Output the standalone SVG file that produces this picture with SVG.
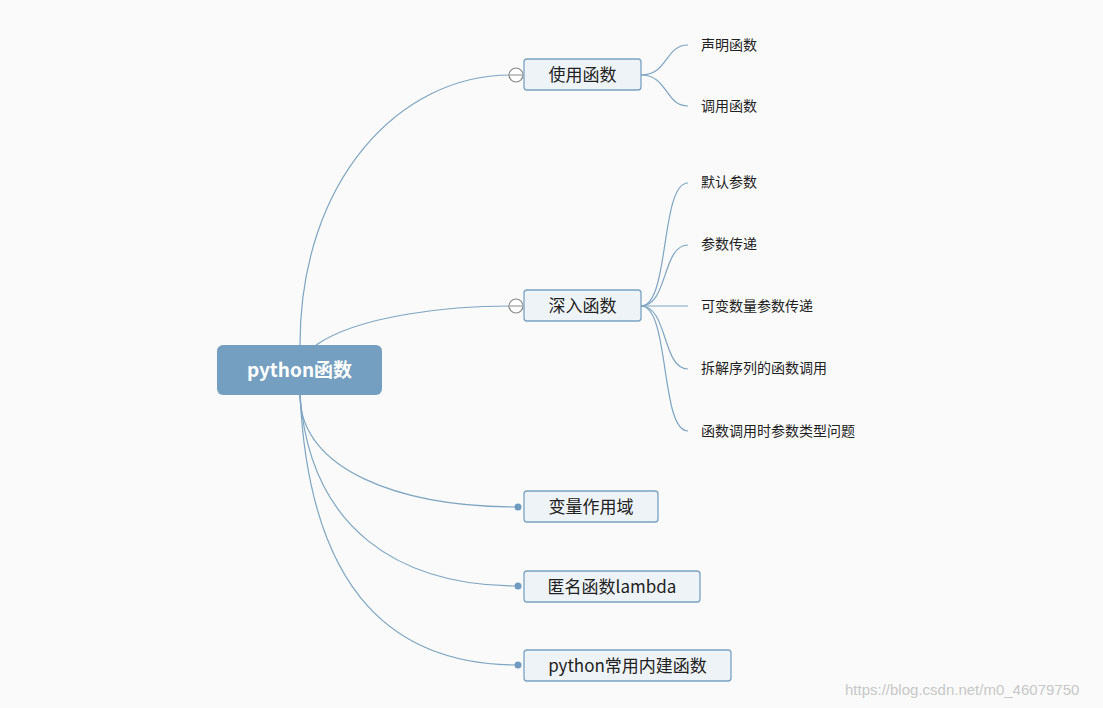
<svg xmlns="http://www.w3.org/2000/svg" width="1103" height="708" viewBox="0 0 1103 708">
<style>
.c{fill:none;stroke:#7ea5c2;stroke-width:1.2}
.b{fill:#eef3f7;stroke:#7aa3c4;stroke-width:1.3}
.t{font-family:"Noto Sans CJK SC","Noto Sans",sans-serif;font-size:17px;fill:#222}
.l{font-family:"Noto Sans CJK SC","Noto Sans",sans-serif;font-size:14px;fill:#222}
.d{fill:#6f9bc0}
.o{fill:#fff;stroke:#888;stroke-width:1.2}
</style>
<rect width="1103" height="708" fill="#fafafa"/>
<g id="connectors">
<path class="c" d="M300,345 C300,180 400,75 510,75"/>
<path class="c" d="M316,345 C360,315 450,306 510,306"/>
<path class="c" d="M300,395 C300,470 400,507 518,507"/>
<path class="c" d="M300,395 C310,530 400,586 518,586"/>
<path class="c" d="M300,395 C310,600 400,665 518,665"/>
<path class="c" d="M641,75 C668,75 665,45 688,45"/>
<path class="c" d="M641,75 C668,75 665,106 688,106"/>
<path class="c" d="M641,306 C670,306 660,183 688,183"/>
<path class="c" d="M641,306 C668,306 662,245 688,245"/>
<path class="c" d="M641,306 L688,306"/>
<path class="c" d="M641,306 C668,306 662,369 688,369"/>
<path class="c" d="M641,306 C670,306 660,431 688,431"/>
</g>
<g id="root"><rect x="217" y="345" width="165" height="50" rx="6" fill="#759fc0"/><text x="299.5" y="377" text-anchor="middle" font-family="'Noto Sans CJK SC','Noto Sans',sans-serif" font-size="19" font-weight="bold" fill="#fff">python函数</text></g>
<g id="n1"><circle class="o" cx="516" cy="75" r="7"/><line x1="510" y1="75" x2="522" y2="75" stroke="#888"/><rect class="b" x="524" y="59" width="117" height="31" rx="3"/><text class="t" x="582.5" y="81" text-anchor="middle">使用函数</text></g>
<g id="n2"><circle class="o" cx="516" cy="306" r="7"/><line x1="510" y1="306" x2="522" y2="306" stroke="#888"/><rect class="b" x="524" y="290" width="117" height="31" rx="3"/><text class="t" x="582.5" y="312" text-anchor="middle">深入函数</text></g>
<g id="n3"><circle class="d" cx="518" cy="507" r="3.5"/><rect class="b" x="524" y="491" width="134" height="31" rx="3"/><text class="t" x="591" y="513" text-anchor="middle">变量作用域</text></g>
<g id="n4"><circle class="d" cx="518" cy="586" r="3.5"/><rect class="b" x="524" y="571" width="176" height="31" rx="3"/><text class="t" x="612" y="593" text-anchor="middle">匿名函数lambda</text></g>
<g id="n5"><circle class="d" cx="518" cy="665" r="3.5"/><rect class="b" x="524" y="650" width="207" height="31" rx="3"/><text class="t" x="627.5" y="672" text-anchor="middle">python常用内建函数</text></g>
<g id="leaves">
<text class="l" x="701" y="50">声明函数</text>
<text class="l" x="701" y="111">调用函数</text>
<text class="l" x="701" y="187">默认参数</text>
<text class="l" x="701" y="249">参数传递</text>
<text class="l" x="701" y="311">可变数量参数传递</text>
<text class="l" x="701" y="373">拆解序列的函数调用</text>
<text class="l" x="701" y="436">函数调用时参数类型问题</text>
</g>
<text x="845" y="695" font-family="'Liberation Sans',sans-serif" font-size="15" fill="#c8c8c8">https://blog.csdn.net/m0_46079750</text>
</svg>
